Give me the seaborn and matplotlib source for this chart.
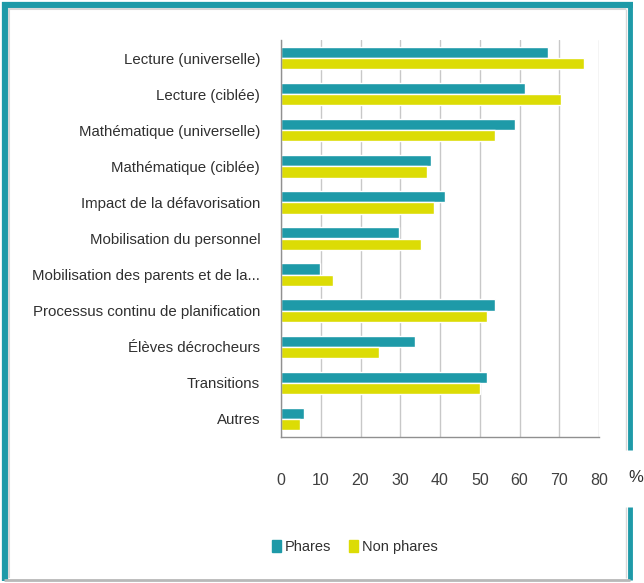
import numpy as np
import pandas as pd
import seaborn as sns
import matplotlib.pyplot as plt
from matplotlib.lines import Line2D
from matplotlib.ticker import FixedLocator

categories = [
    "Lecture (universelle)",
    "Lecture (ciblée)",
    "Mathématique (universelle)",
    "Mathématique (ciblée)",
    "Impact de la défavorisation",
    "Mobilisation du personnel",
    "Mobilisation des parents et de la...",
    "Processus continu de planification",
    "Élèves décrocheurs",
    "Transitions",
    "Autres",
]
phares = [67.2, 61.5, 58.8, 37.7, 41.2, 29.8, 9.8, 53.8, 33.7, 51.9, 5.9]
non_phares = [76.2, 70.4, 53.8, 36.7, 38.4, 35.2, 13.1, 51.8, 24.7, 50.0, 4.9]
series = ["Phares", "Non phares"]
x_ticks = [0, 10, 20, 30, 40, 50, 60, 70, 80]

df = pd.DataFrame({
    "cat": categories * 2,
    "val": phares + non_phares,
    "serie": [series[0]] * len(categories) + [series[1]] * len(categories),
})

sns.set_style("white")
plt.rcParams["font.family"] = ["Liberation Sans", "DejaVu Sans"]

teal = "#1e9aa8"
yellow = "#dcdc05"

fig = plt.figure(figsize=(6.44, 5.83), dpi=100)
ax = fig.add_axes([281 / 644, 1 - 437 / 583, 318 / 644, 397 / 583])

sns.barplot(data=df, y="cat", x="val", hue="serie", orient="h",
            palette=[teal, yellow], width=0.62, ax=ax, legend=True,
            saturation=1)

ax.set_xlim(0, 80)
ax.set_ylim(len(categories) - 0.5, -0.5)
ax.set_xticks(x_ticks)
ax.set_xticklabels([str(t) for t in x_ticks], fontsize=11.5, color="#404040")
ax.xaxis.grid(True, color="#c8c8c8", lw=1)
ax.set_axisbelow(True)
ax.set_xlabel("")
ax.set_ylabel("")
ax.tick_params(axis="x", length=4, direction="inout", pad=24, color="#909090")
ax.tick_params(axis="y", which="major", length=0, pad=15, labelsize=10.8,
               labelcolor="#303030")
ax.yaxis.set_minor_locator(FixedLocator(np.arange(-0.5, len(categories), 1)))
ax.tick_params(axis="y", which="minor", length=4, color="#909090")
for s in ["top", "right"]:
    ax.spines[s].set_visible(False)
for s in ["left", "bottom"]:
    ax.spines[s].set_color("#909090")
    ax.spines[s].set_linewidth(1)

ax.legend_.remove()
handles = [plt.Rectangle((0, 0), 1, 1, color=teal),
           plt.Rectangle((0, 0), 1, 1, color=yellow)]
fig.legend(handles, series, loc="center", bbox_to_anchor=(355 / 644, 1 - 547 / 583),
           ncol=2, frameon=False, fontsize=10.5, handlelength=0.6, handleheight=0.8,
           handletextpad=0.3, columnspacing=1.2, labelcolor="#303030")

fig.text(636 / 644, 1 - 477 / 583, "%", fontsize=12, ha="center", va="center",
         color="#303030")

# outer frame
def fline(xs, ys, color, lw):
    fig.add_artist(Line2D([x / 644 for x in xs], [1 - y / 583 for y in ys],
                          color=color, lw=lw, transform=fig.transFigure,
                          solid_capstyle="butt"))

fline([4.5, 4.5], [2, 581], teal, 4.5)
fline([2, 633], [4.5, 4.5], teal, 4.5)
fline([630, 630], [2, 450], teal, 3.5)
fline([630, 630], [507, 580], teal, 3.5)
fline([9, 9], [8, 578], "#d8d8d8", 1.5)
fline([8, 626], [9, 9], "#d8d8d8", 1.5)
fline([626, 626], [9, 450], "#d8d8d8", 1)
fline([626, 626], [507, 578], "#d8d8d8", 1)
fline([4, 630], [580, 580], "#b8b8b8", 2)

fig.savefig("out.png", dpi=100)
